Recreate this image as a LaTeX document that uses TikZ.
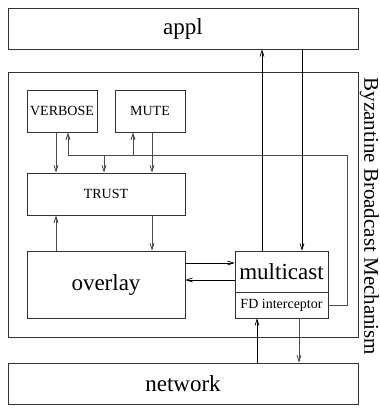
\documentclass[tikz,border=0pt]{standalone}
\usepackage{fontspec}
\setmainfont{Liberation Serif}
\usetikzlibrary{arrows.meta}
\begin{document}
\begin{tikzpicture}[x=1pt,y=-1pt]
    \tikzset{
      box/.style={draw=black!80,line width=0.8pt,inner sep=0pt},
      big/.style={font=\fontsize{23}{25}\selectfont},
      small/.style={font=\fontsize{14}{16}\selectfont},
      arr/.style={line width=0.7pt,-{Straight Barb[length=6pt,width=4pt]}},
      garr/.style={arr,draw=black!70,line width=0.9pt}
    }
    \useasboundingbox (0,0) rectangle (380,408);
    % layers outside the mechanism
    \node[box,big,minimum width=350pt,minimum height=41pt] (appl) at (183,28.5) {appl};
    \node[box,big,minimum width=350pt,minimum height=41pt] (network) at (183,383.5) {network};
    % the mechanism itself
    \node[box,minimum width=350pt,minimum height=265pt] (bbm) at (183,204.5) {};
    \node[rotate=-90,inner sep=0pt,font=\fontsize{21}{23}\selectfont] (bbmlabel) at (369.5,216.5) {Byzantine Broadcast Mechanism};
    \node[box,small,minimum width=70pt,minimum height=42pt] (verbose) at (62,111) {VERBOSE};
    \node[box,small,minimum width=70pt,minimum height=42pt] (mute) at (150,111) {MUTE};
    \node[box,small,minimum width=158pt,minimum height=42pt] (trust) at (106,194) {TRUST};
    \node[box,big,minimum width=158pt,minimum height=67pt] (overlay) at (106,284.5) {overlay};
    \node[box,big,minimum width=93pt,minimum height=41pt] (mcast) at (281.5,271.5) {multicast};
    \node[box,small,minimum width=93pt,minimum height=26pt] (fdi) at (281.5,305) {FD interceptor};
    \coordinate (bus) at (347,155);
    % detectors and trust
    \draw[garr] ([xshift=-6pt]verbose.south) -- ([xshift=-6pt]verbose.south |- trust.north);
    \draw[garr] ([xshift=2pt]mute.south) -- ([xshift=2pt]mute.south |- trust.north);
    \draw[garr] (fdi.east) -| (bus) -| ([xshift=6pt]verbose.south);
    \draw[garr] ([xshift=-17pt]mute.south |- bus) -- ([xshift=-17pt]mute.south);
    \draw[garr] ([xshift=-2pt]trust.north |- bus) -- ([xshift=-2pt]trust.north);
    \draw[garr] ([xshift=-50pt]overlay.north) -- ([xshift=-50pt]trust.south);
    \draw[garr] ([xshift=46pt]trust.south) -- ([xshift=46pt]overlay.north);
    % overlay and multicast
    \draw[arr] ([yshift=8.5pt]mcast.west -| overlay.east) -- ([yshift=8.5pt]mcast.west);
    \draw[arr] ([yshift=-8.5pt]mcast.west) -- ([yshift=-8.5pt]mcast.west -| overlay.east);
    % up to appl, down to network
    \draw[arr] ([xshift=-19.5pt]mcast.north) -- ([xshift=-19.5pt]mcast.north |- appl.south);
    \draw[arr] ([xshift=20.5pt]mcast.north |- appl.south) -- ([xshift=20.5pt]mcast.north);
    \draw[arr] ([xshift=-24.5pt]fdi.south |- network.north) -- ([xshift=-24.5pt]fdi.south);
    \draw[garr] ([xshift=17.5pt]fdi.south) -- ([xshift=17.5pt]fdi.south |- network.north);
\end{tikzpicture}
\end{document}
